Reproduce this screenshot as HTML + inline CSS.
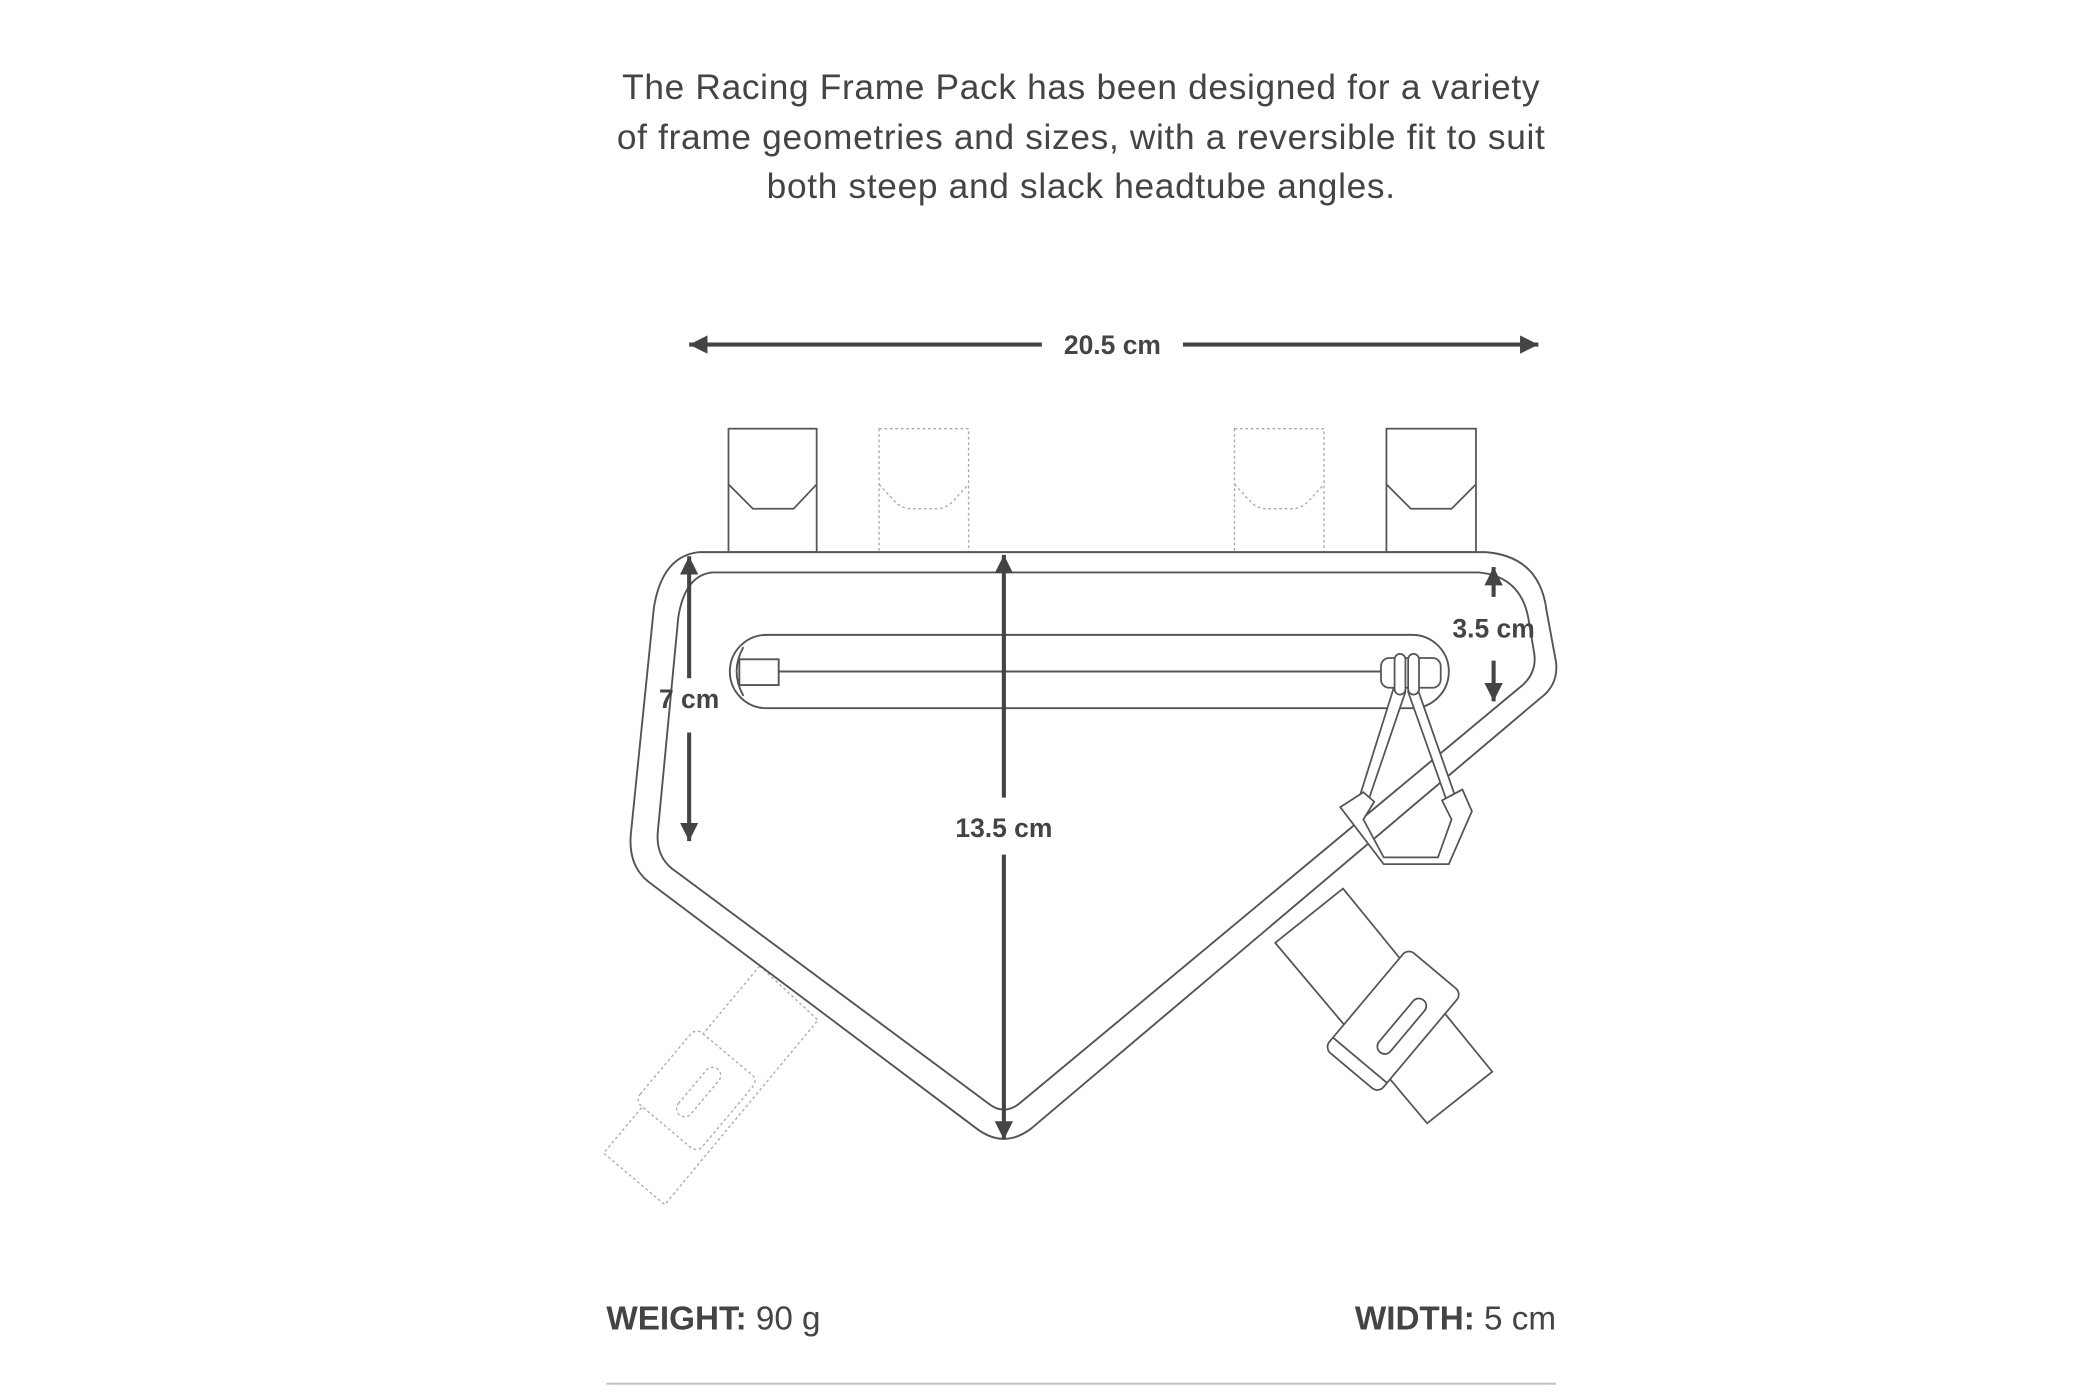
<!DOCTYPE html>
<html><head><meta charset="utf-8"><style>
html,body{margin:0;padding:0;background:#fff;}
svg{display:block;}
</style></head><body>
<svg width="2100" height="1400" viewBox="0 0 1548 1032" preserveAspectRatio="none" xmlns="http://www.w3.org/2000/svg">
<defs>
<marker id="ah" viewBox="0 0 10 10" refX="10" refY="5" markerWidth="4.5" markerHeight="4.5" orient="auto-start-reverse"><path d="M0,0 L10,5 L0,10 z" fill="#444"/></marker>
</defs>
<g font-family="Liberation Sans, sans-serif" fill="#444" font-size="26" text-anchor="middle" letter-spacing="0.5">
<text x="797" y="73">The Racing Frame Pack has been designed for a variety</text>
<text x="797" y="110">of frame geometries and sizes, with a reversible fit to suit</text>
<text x="797" y="146">both steep and slack headtube angles.</text>
</g>
<g stroke="#444" stroke-width="3" fill="none">
<line x1="768" y1="254" x2="508" y2="254" marker-end="url(#ah)"/>
<line x1="872" y1="254" x2="1134" y2="254" marker-end="url(#ah)"/>
</g>
<!-- straps top -->
<g stroke="#555" stroke-width="1.3" fill="#fff">
<rect x="537" y="316" width="65" height="91"/>
<polyline points="537,357 555,375 585,375 602,357" fill="none"/>
<rect x="1022" y="316" width="66" height="91"/>
<polyline points="1022,357 1040,375 1070,375 1088,357" fill="none"/>
</g>
<g stroke="#aaa" stroke-width="1" fill="none" stroke-dasharray="2,2">
<rect x="648" y="316" width="66" height="91"/>
<path d="M648,357 L660,370 Q665,375 672,375 L690,375 Q697,375 702,370 L714,357"/>
<rect x="910" y="316" width="66" height="91"/>
<path d="M910,357 L922,370 Q927,375 934,375 L952,375 Q959,375 964,370 L976,357"/>
</g>
<!-- left dotted strap -->
<g stroke="#aaa" stroke-width="1" fill="none" stroke-dasharray="2,2">
<polygon points="560,712 603,752 490,888 445,850"/>
<g transform="translate(515,805) rotate(-50)">
<rect x="-35" y="-32" width="70" height="60" rx="6" fill="#fff"/>
<rect x="-22" y="-6" width="44" height="12" rx="6"/>
</g>
</g>
<!-- right strap -->
<g stroke="#555" stroke-width="1.3" fill="#fff">
<polygon points="940,695 990,655 1100,790 1052,828"/>
<g transform="translate(1030,755) rotate(-50)">
<rect x="-48" y="-30" width="96" height="52" rx="6"/>
<line x1="-38" y1="-30" x2="-38" y2="22"/>
<rect x="-24" y="-2" width="50" height="11" rx="5.5"/>
</g>
</g>
<!-- bag outer -->
<g stroke="#555" stroke-width="1.4" fill="none">
<path d="M515,407 L1095,407 Q1135,410 1140,450 L1147,488 Q1149,505 1135,515 L760,832 Q740,847 720,832 L478,650 Q463,638 465,615 L482,448 Q488,410 515,407 Z" fill="#fff"/>
<path d="M525,422 L1090,422 Q1122,425 1127,458 L1131,482 Q1133,497 1120,507 L752,813 Q740,823 728,813 L495,640 Q483,630 485,612 L500,455 Q505,424 525,422 Z"/>
<rect x="538" y="468" width="530" height="54" rx="27"/>
<line x1="574" y1="495" x2="1020" y2="495"/>
<rect x="545" y="486" width="29" height="19"/>
<path d="M548,477 Q538,495 548,513"/>
</g>
<!-- zipper pull -->
<g stroke="#555" stroke-width="1.3" fill="#fff">
<path d="M1028,505 L1002,588 L1008,592 L1036,510 Z"/>
<path d="M1044,505 L1072,585 L1066,589 L1038,510 Z"/>
<polygon points="988,595 1005,584 1013,591 1005,604 1020,632 1060,632 1070,604 1063,590 1078,582 1085,598 1068,637 1020,637"/>
<rect x="1018" y="485" width="44" height="22" rx="6"/>
<rect x="1028" y="482" width="8" height="30" rx="4"/>
<rect x="1038" y="482" width="8" height="30" rx="4"/>
</g>
<!-- dimension vertical arrows -->
<g stroke="#444" stroke-width="3" fill="none">
<line x1="508" y1="500" x2="508" y2="410" marker-end="url(#ah)"/>
<line x1="508" y1="540" x2="508" y2="620" marker-end="url(#ah)"/>
<line x1="740" y1="588" x2="740" y2="409" marker-end="url(#ah)"/>
<line x1="740" y1="630" x2="740" y2="840" marker-end="url(#ah)"/>
<line x1="1101" y1="440" x2="1101" y2="418" marker-end="url(#ah)"/>
<line x1="1101" y1="487" x2="1101" y2="517" marker-end="url(#ah)"/>
</g>
<g font-family="Liberation Sans, sans-serif" fill="#444" font-size="19.5" font-weight="bold" text-anchor="middle">
<text x="820" y="261">20.5 cm</text>
<text x="508" y="522">7 cm</text>
<text x="740" y="617">13.5 cm</text>
<text x="1101" y="470">3.5 cm</text>
</g>
<g font-family="Liberation Sans, sans-serif" fill="#444" font-size="24.5">
<text x="447" y="980"><tspan font-weight="bold">WEIGHT:</tspan> 90 g</text>
<text x="1147" y="980" text-anchor="end"><tspan font-weight="bold">WIDTH:</tspan>  5 cm</text>
</g>
<line x1="447" y1="1020" x2="1147" y2="1020" stroke="#b8c4c4" stroke-width="1.5"/>
</svg>
</body></html>
